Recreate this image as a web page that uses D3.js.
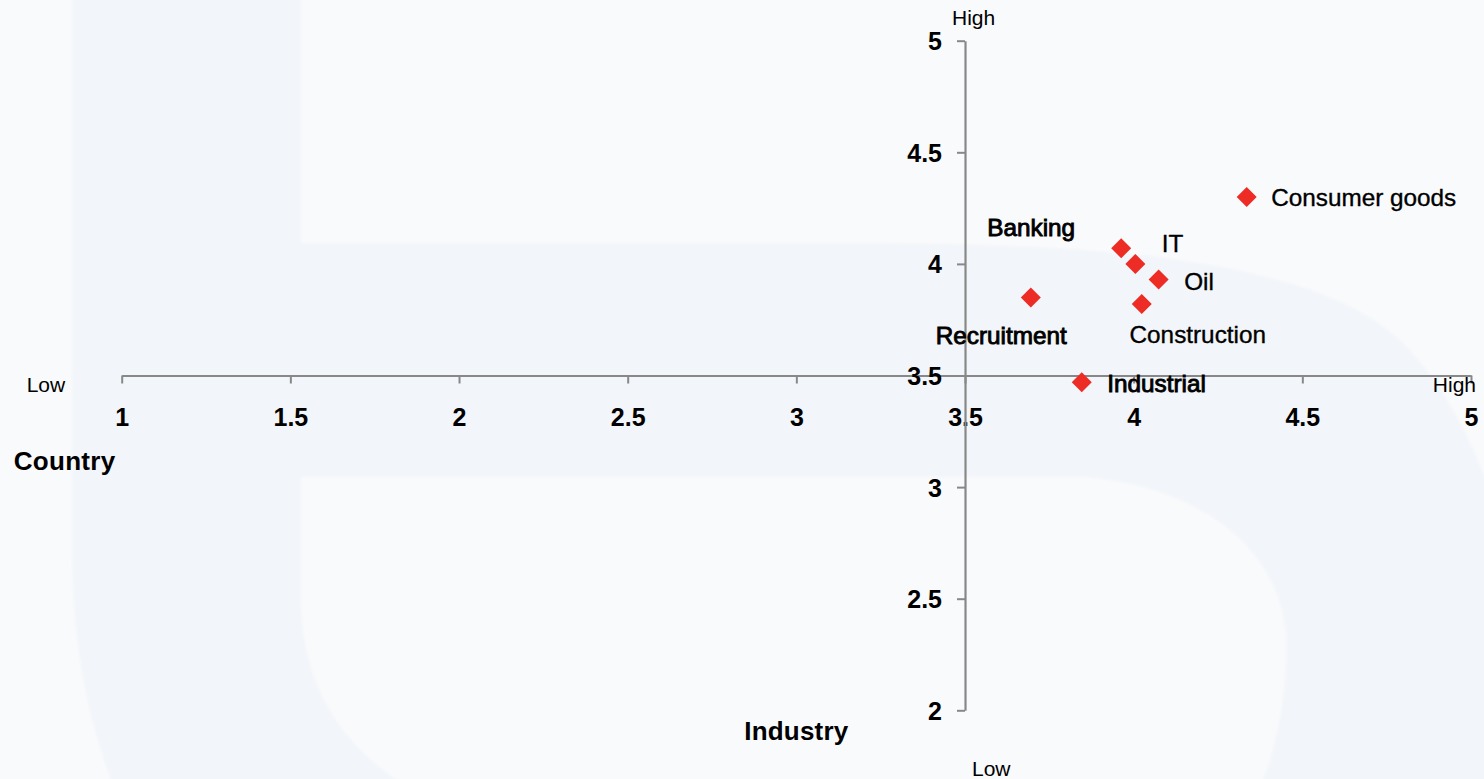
<!DOCTYPE html>
<html><head><meta charset="utf-8">
<script src="https://cdn.jsdelivr.net/npm/d3@7"></script>
<style>html,body{margin:0;padding:0;background:#f9fafc;overflow:hidden}svg{display:block}</style>
</head><body><svg id="chart" width="1484" height="779"></svg>
<script>
// ---- data ----
const sectors = ["Consumer goods","Banking","IT","Oil","Recruitment","Construction","Industrial"];
const countryScores  = [4.335, 3.963, 4.005, 4.074, 3.695, 4.024, 3.846];
const industryScores = [4.30, 4.07, 4.00, 3.93, 3.85, 3.82, 3.47];
const xTicks = [1, 1.5, 2, 2.5, 3, 3.5, 4, 4.5, 5];
const yTicks = [2, 2.5, 3, 3.5, 4, 4.5, 5];
const xDomain = [1, 5];
const yDomain = [2, 5];
const crossAt = 3.5;
const xTitle = "Country";
const yTitle = "Industry";
const lowLabel = "Low";
const highLabel = "High";

// ---- label layout (style, not data) ----
const labelPlacement = {
  "Consumer goods": {anchor:"start",  dx: 24.5, dy: 9,   heavy:false},
  "Banking":        {anchor:"middle", dx:-90,   dy:-12,  heavy:true},
  "IT":             {anchor:"start",  dx: 26.5, dy:-12,  heavy:false},
  "Oil":            {anchor:"start",  dx: 25.5, dy: 10,  heavy:false},
  "Recruitment":    {anchor:"middle", dx:-29.5, dy: 47,  heavy:true},
  "Construction":   {anchor:"middle", dx: 56,   dy: 39,  heavy:false},
  "Industrial":     {anchor:"start",  dx: 25.5, dy: 10,  heavy:true}
};

const W = 1484, H = 779;
const svg = d3.select("#chart");
const FONT = "'Liberation Sans', Arial, sans-serif";

// ---- background watermark "b" ----
const defs = svg.append("defs");
defs.append("filter").attr("id","soft").attr("x","-5%").attr("y","-5%").attr("width","110%").attr("height","110%")
  .append("feGaussianBlur").attr("stdDeviation", 1.6);
const bg = svg.append("g").attr("filter","url(#soft)");
bg.append("rect").attr("x",-20).attr("y",-20).attr("width",W+40).attr("height",H+40).attr("fill","#f9fafc");
bg.append("path").attr("fill","#f2f5f9")
  .attr("d","M72,-20 L301,-20 L301,243 L860,243 C1120,243 1330,262 1410,350 C1450,395 1478,450 1500,520 L1500,800 L118,800 C88,720 72,650 72,546 Z");
bg.append("path").attr("fill","#f9fafc")
  .attr("d","M301,477 L1080,477 C1205,485 1286,555 1286,645 C1286,705 1275,755 1255,800 L430,800 C345,755 301,690 301,596 Z");

// ---- scales ----
const x = d3.scaleLinear().domain(xDomain).range([121.7, 1471]);
const y = d3.scaleLinear().domain(yDomain).range([710.3, 40.7]);
const axisColor = "#888888";

// x axis (crossing at y = 3.5), ticks pointing down
const xAxisG = svg.append("g").attr("transform", `translate(0,${y(crossAt)})`)
  .call(d3.axisBottom(x).tickValues(xTicks).tickSize(8).tickSizeOuter(0).tickFormat(d3.format("")));
xAxisG.select(".domain").attr("stroke", axisColor).attr("stroke-width", 2.2);
xAxisG.selectAll(".tick line").attr("stroke", axisColor).attr("stroke-width", 2);
xAxisG.selectAll(".tick text").attr("fill","#000").attr("font-family",FONT).attr("font-size",25)
  .attr("font-weight","bold").attr("y", 50).attr("dy", 0);

// y axis (crossing at x = 3.5), ticks pointing left
const yAxisG = svg.append("g").attr("transform", `translate(${x(crossAt)},0)`)
  .call(d3.axisLeft(y).tickValues(yTicks).tickSize(8).tickSizeOuter(0).tickFormat(d3.format("")));
yAxisG.select(".domain").attr("stroke", axisColor).attr("stroke-width", 2.2);
yAxisG.selectAll(".tick line").attr("stroke", axisColor).attr("stroke-width", 2);
yAxisG.selectAll(".tick text").attr("fill","#000").attr("font-family",FONT).attr("font-size",25)
  .attr("font-weight","bold").attr("x", -23).attr("dy", "0.36em");

// ---- axis end labels & titles ----
function txt(tx, ty, s, opts) {
  return svg.append("text").attr("x", tx).attr("y", ty).text(s)
    .attr("font-family", FONT).attr("font-size", opts.size).attr("fill", "#000")
    .attr("font-weight", opts.bold ? "bold" : "normal")
    .attr("text-anchor", opts.anchor || "start");
}
const x0 = x(xDomain[0]), x1 = x(xDomain[1]), yc = y(crossAt), xc = x(crossAt);
const yTop = y(yDomain[1]), yBot = y(yDomain[0]);
txt(x0 - 95, yc + 16, lowLabel, {size:21});
txt(x1 + 5, yc + 16, highLabel, {size:21, anchor:"end"});
txt(xc - 13, yTop - 16, highLabel, {size:21});
txt(xc + 7, yBot + 66, lowLabel, {size:21});
txt(x0 - 108, yc + 94, xTitle, {size:26, bold:true}).attr("letter-spacing", 0.3);
txt(x(3) , yBot + 30, yTitle, {size:26, bold:true}).attr("text-anchor","middle").attr("letter-spacing", 0.2);

// ---- points ----
const pts = sectors.map((s, i) => ({name: s, cx: countryScores[i], iy: industryScores[i]}));
const diamond = d3.symbol().type(d3.symbolSquare).size(200);
svg.append("g").selectAll("path").data(pts).join("path")
  .attr("d", diamond)
  .attr("transform", d => `translate(${x(d.cx)},${y(d.iy)}) rotate(45)`)
  .attr("fill", "#ec2c25");

// ---- data labels ----
svg.append("g").selectAll("text").data(pts).join("text")
  .attr("x", d => x(d.cx) + labelPlacement[d.name].dx)
  .attr("y", d => y(d.iy) + labelPlacement[d.name].dy)
  .attr("text-anchor", d => labelPlacement[d.name].anchor)
  .attr("font-family", FONT).attr("font-size", 24.3).attr("fill", "#000")
  .attr("stroke", "#000")
  .attr("stroke-width", d => labelPlacement[d.name].heavy ? 0.9 : 0.35)
  .text(d => d.name);
</script>
</body></html>
